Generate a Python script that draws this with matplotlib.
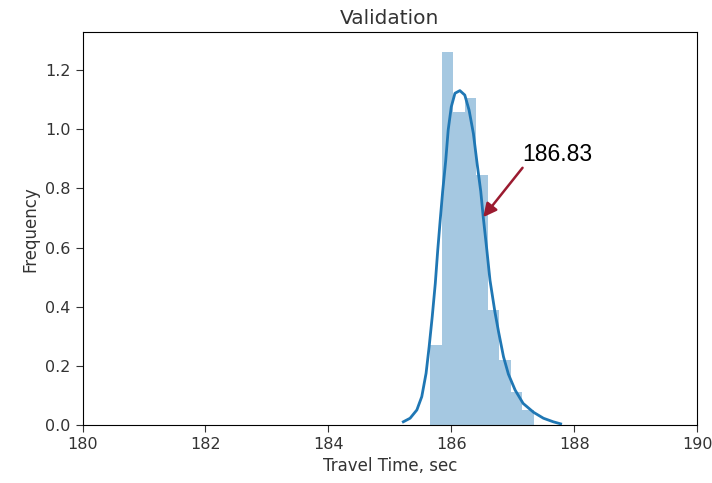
import numpy as np
import matplotlib
matplotlib.use("Agg")
import matplotlib.pyplot as plt

# Histogram (density)
bin_start = 185.66
bin_width = 0.187
bar_heights = [0.27, 1.262, 1.06, 1.105, 0.845, 0.39, 0.22, 0.113, 0.05]

# KDE curve
kde_x = [185.22, 185.33, 185.44, 185.52, 185.59, 185.64, 185.69, 185.74, 185.78,
         185.82, 185.86, 185.91, 185.95, 186.00, 186.06, 186.14, 186.22, 186.29,
         186.36, 186.42, 186.48, 186.52, 186.58, 186.63, 186.71, 186.77, 186.85,
         186.93, 187.04, 187.17, 187.34, 187.50, 187.66, 187.78]
kde_y = [0.011, 0.023, 0.051, 0.096, 0.175, 0.265, 0.366, 0.479, 0.592,
         0.693, 0.79, 0.895, 0.998, 1.076, 1.122, 1.131, 1.116, 1.065,
         0.986, 0.885, 0.79, 0.704, 0.59, 0.49, 0.383, 0.315, 0.231,
         0.172, 0.118, 0.073, 0.043, 0.023, 0.011, 0.004]

annot_label = "186.83"
annot_tip = (186.52, 0.703)
annot_text = (187.16, 0.87)

title = "Validation"
xlabel = "Travel Time, sec"
ylabel = "Frequency"
xticks = [180, 182, 184, 186, 188, 190]
yticks = [0.0, 0.2, 0.4, 0.6, 0.8, 1.0, 1.2]

fig = plt.figure(figsize=(7.12, 4.83), dpi=100)
ax = fig.add_axes([0.116, 0.120, 0.863, 0.813])

edges = bin_start + bin_width * np.arange(len(bar_heights) + 1)
ax.bar(edges[:-1], bar_heights, width=np.diff(edges), align="edge",
       color="#1f77b4", alpha=0.4, linewidth=0)
ax.plot(kde_x, kde_y, color="#1f77b4", lw=2, solid_joinstyle="round")

ax.annotate("", xy=annot_tip, xytext=annot_text,
            arrowprops=dict(arrowstyle="-|>,head_length=0.8,head_width=0.4",
                            color="#9b1b30", lw=1.8, shrinkA=0, shrinkB=0))
ax.text(annot_text[0], annot_text[1] + 0.005, annot_label, fontsize=16.5,
        family="Liberation Sans", ha="left", va="bottom", color="black")

ax.set_xlim(180, 190)
ax.set_ylim(0, 1.328)
ax.set_xticks(xticks)
ax.set_yticks(yticks)
ax.set_xticklabels([str(t) for t in xticks])
ax.set_yticklabels([f"{t:.1f}" for t in yticks])
ax.tick_params(labelsize=11.5, length=5, color="#333333", labelcolor="#333333")
ax.set_title(title, fontsize=14.5, color="#333333")
ax.set_xlabel(xlabel, fontsize=12, color="#333333")
ax.set_ylabel(ylabel, fontsize=12, color="#333333")

fig.savefig("out.png", dpi=100)
